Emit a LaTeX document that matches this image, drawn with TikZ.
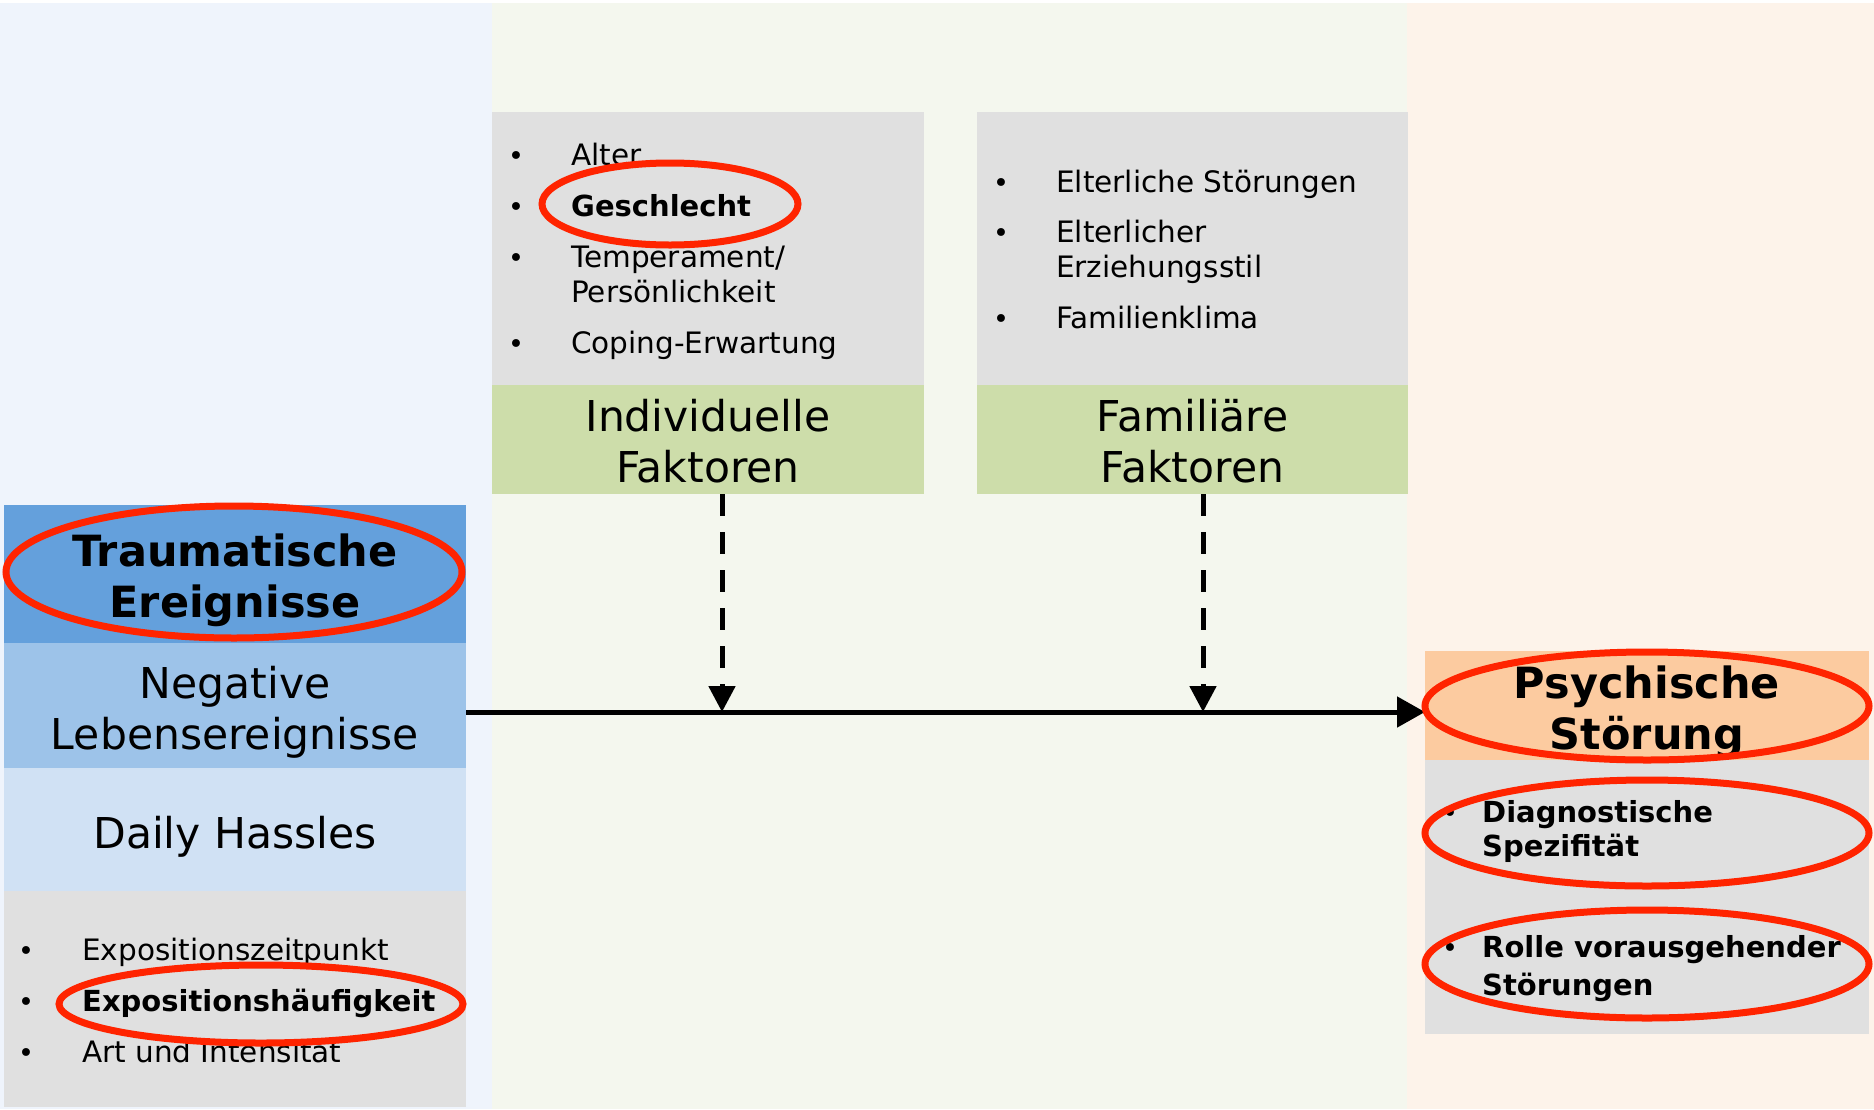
\documentclass[tikz,border=0pt]{standalone}
\usepackage{fontspec}
\setmainfont{DejaVu Sans}
\usetikzlibrary{arrows.meta}

\definecolor{bgblue}{RGB}{239,244,252}
\definecolor{bggreen}{RGB}{244,247,238}
\definecolor{bgpeach}{RGB}{253,243,234}
\definecolor{trauma}{RGB}{100,160,220}
\definecolor{negev}{RGB}{157,195,233}
\definecolor{hassle}{RGB}{208,225,244}
\definecolor{listgray}{RGB}{224,224,224}
\definecolor{factor}{RGB}{205,221,170}
\definecolor{disorder}{RGB}{252,203,160}
\definecolor{markred}{RGB}{255,36,0}

\tikzset{
  panel/.style={rectangle, inner sep=0pt, outer sep=0pt, draw=none},
  title/.style={inner sep=0pt, align=center, font=\fontsize{42.5}{51}\selectfont},
  boldtitle/.style={inner sep=0pt, align=center, font=\fontsize{43}{51}\selectfont\bfseries},
  item/.style={anchor=mid west, inner sep=0pt, font=\fontsize{29.5}{35}\selectfont},
  bolditem/.style={item, font=\fontsize{29}{35}\selectfont\bfseries},
  bul/.style={anchor=mid, inner sep=0pt, font=\fontsize{27}{35}\selectfont},
  ring/.style={draw=markred, line width=7pt},
  flow/.style={line width=5pt, -{Triangle[length=28pt,width=30pt]}},
  modarrow/.style={line width=5pt, dash pattern=on 22pt off 16pt, -{Triangle[length=26pt,width=26pt]}}
}

\begin{document}
\begin{tikzpicture}[x=1pt,y=-1pt]
\useasboundingbox (0,0) rectangle (1874,1109);

% column backgrounds
\fill[white] (0,0) rectangle (1874,1109);
\fill[bgblue]  (0,3) rectangle (492,1109);
\fill[bggreen] (492,3) rectangle (1407,1109);
\fill[bgpeach] (1407,3) rectangle (1874,1109);

% stressor column
\node[panel, fill=trauma, minimum width=462pt, minimum height=138pt] (trauma) at (235,574) {};
\node[panel, fill=negev, minimum width=462pt, minimum height=125pt] (neg) at (235,705.5) {};
\node[panel, fill=hassle, minimum width=462pt, minimum height=123pt] (hassle) at (235,829.5) {};
\node[panel, fill=listgray, minimum width=462pt, minimum height=216pt] (expo) at (235,999) {};
\node[boldtitle] (traumaT) at (235,580) {Traumatische\\Ereignisse};
\node[title] (negT) at (235,712) {Negative\\Lebensereignisse};
\node[title] (hassleT) at (235,836.5) {Daily Hassles};
\node[bul] (eb1) at (26,958) {•};
\node[item] (e1) at (82,958) {Expositionszeitpunkt};
\node[bul] (eb2) at (26,1009) {•};
\node[bolditem] (e2) at (82,1009) {Expositionshäufigkeit};
\node[bul] (eb3) at (26,1060) {•};
\node[item] (e3) at (82,1060) {Art und Intensität};

% individual factors
\node[panel, fill=listgray, minimum width=432pt, minimum height=273pt] (indl) at (708,248.5) {};
\node[panel, fill=factor, minimum width=432pt, minimum height=109pt] (indf) at (708,439.5) {};
\node[title] (indT) at (708,441) {Individuelle\\Faktoren};
\node[bul] (ib1) at (516,163) {•};
\node[item] (i1) at (571,163) {Alter};
\node[bul] (ib2) at (516,214) {•};
\node[bolditem] (i2) at (571,214) {Geschlecht};
\node[bul] (ib3) at (516,265) {•};
\node[item] (i3) at (571,265) {Temperament/};
\node[item] (i3b) at (571,300) {Persönlichkeit};
\node[bul] (ib4) at (516,351) {•};
\node[item] (i4) at (571,351) {Coping-Erwartung};

% family factors
\node[panel, fill=listgray, minimum width=431pt, minimum height=273pt] (faml) at (1192.5,248.5) {};
\node[panel, fill=factor, minimum width=431pt, minimum height=109pt] (famf) at (1192.5,439.5) {};
\node[title] (famT) at (1192.5,441) {Familiäre\\Faktoren};
\node[bul] (fb1) at (1001,190) {•};
\node[item] (f1) at (1056,190) {Elterliche Störungen};
\node[bul] (fb2) at (1001,240) {•};
\node[item] (f2) at (1056,240) {Elterlicher};
\node[item] (f2b) at (1056,275) {Erziehungsstil};
\node[bul] (fb3) at (1001,326) {•};
\node[item] (f3) at (1056,326) {Familienklima};

% outcome
\node[panel, fill=disorder, minimum width=444pt, minimum height=109pt] (psy) at (1647,705.5) {};
\node[panel, fill=listgray, minimum width=444pt, minimum height=274pt] (psyl) at (1647,897) {};
\node[boldtitle] (psyT) at (1647,712) {Psychische\\Störung};
\node[bul] (pb1) at (1450,820) {•};
\node[bolditem] (p1) at (1482,820) {Diagnostische};
\node[bolditem] (p1b) at (1482,854) {Spezifität};
\node[bul] (pb2) at (1450,955) {•};
\node[bolditem] (p2) at (1482,955) {Rolle vorausgehender};
\node[bolditem] (p2b) at (1482,993) {Störungen};

% main path and moderating influences
\coordinate (src) at (466,712);
\coordinate (j1) at (722,712);
\coordinate (j2) at (1203,712);
\draw[flow] (src) -- (src -| psy.west);
\draw[modarrow] (j1 |- indf.south) -- (j1);
\draw[modarrow] (j2 |- famf.south) -- (j2);

% highlight rings
\draw[ring] (234,572) ellipse [x radius=228pt, y radius=66pt];
\draw[ring] (670,204) ellipse [x radius=128pt, y radius=41pt];
\draw[ring] (261,1004) ellipse [x radius=202pt, y radius=39pt];
\draw[ring] (1647,706) ellipse [x radius=222pt, y radius=54pt];
\draw[ring] (1647,833) ellipse [x radius=222pt, y radius=53pt];
\draw[ring] (1647,964) ellipse [x radius=222pt, y radius=54pt];
\end{tikzpicture}
\end{document}
